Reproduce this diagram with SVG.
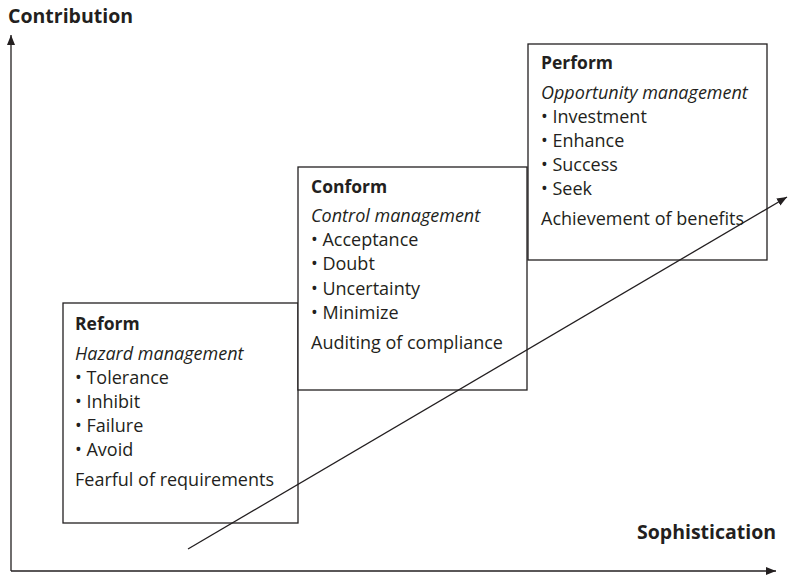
<svg xmlns="http://www.w3.org/2000/svg" width="788" height="575" viewBox="0 0 788 575">
  <style>
    .box { fill: #ffffff; stroke: #231f20; stroke-width: 1.3; }
    .t { font-family: "Open Sans", Lato, sans-serif; font-size: 18px; fill: #231f20; }
    .b { font-weight: bold; font-size: 17.5px; }
    .ax { font-size: 19.5px; }
    .i { font-style: italic; }
    .line { stroke: #231f20; stroke-width: 1.3; fill: none; }
  </style>
  <defs>
    <marker id="head" viewBox="0 0 10 10" refX="10" refY="5" markerWidth="10" markerHeight="10" markerUnits="userSpaceOnUse" orient="auto">
      <path d="M0,1 L10,5 L0,9 Z" fill="#231f20"/>
    </marker>
  </defs>

  <!-- axes -->
  <g id="axes">
    <line class="line" x1="11" y1="571" x2="11" y2="35" marker-end="url(#head)"/>
    <line class="line" x1="11" y1="571" x2="776" y2="571" marker-end="url(#head)"/>
    <text class="t b ax" x="8" y="23">Contribution</text>
    <text class="t b ax" x="637" y="539">Sophistication</text>
  </g>

  <g id="reform">
    <rect class="box" x="63" y="303" width="235" height="220"/>
    <text class="t b" x="75" y="330">Reform</text>
    <text class="t i" x="75" y="360">Hazard management</text>
    <text class="t" x="75" y="384">• Tolerance</text>
    <text class="t" x="75" y="408">• Inhibit</text>
    <text class="t" x="75" y="432">• Failure</text>
    <text class="t" x="75" y="456">• Avoid</text>
    <text class="t" x="75" y="486">Fearful of requirements</text>
  </g>

  <g id="conform">
    <rect class="box" x="298" y="167" width="229" height="223"/>
    <text class="t b" x="311" y="193">Conform</text>
    <text class="t i" x="311" y="222">Control management</text>
    <text class="t" x="311" y="246">• Acceptance</text>
    <text class="t" x="311" y="270">• Doubt</text>
    <text class="t" x="311" y="295">• Uncertainty</text>
    <text class="t" x="311" y="319">• Minimize</text>
    <text class="t" x="311" y="349">Auditing of compliance</text>
  </g>

  <g id="perform">
    <rect class="box" x="528" y="44" width="239" height="216"/>
    <text class="t b" x="541" y="69">Perform</text>
    <text class="t i" x="541" y="99">Opportunity management</text>
    <text class="t" x="541" y="123">• Investment</text>
    <text class="t" x="541" y="147">• Enhance</text>
    <text class="t" x="541" y="171">• Success</text>
    <text class="t" x="541" y="195">• Seek</text>
    <text class="t" x="541" y="225">Achievement of benefits</text>
  </g>

  <!-- rising trend arrow across the three stages -->
  <g id="connectors">
    <line class="line" x1="188" y1="549" x2="787" y2="197" marker-end="url(#head)"/>
  </g>
</svg>
